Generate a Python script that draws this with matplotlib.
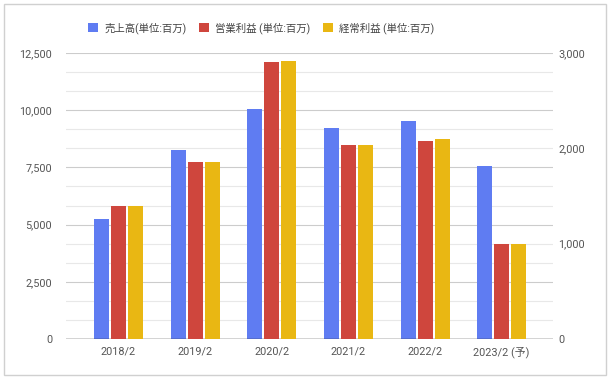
import numpy as np
import matplotlib
matplotlib.use('Agg')
import matplotlib.pyplot as plt
from matplotlib.patches import Rectangle, Patch
from matplotlib.ticker import MultipleLocator, FuncFormatter

plt.rcParams['font.family'] = ['Roboto', 'Noto Sans CJK JP', 'DejaVu Sans']

# データ
years = ['2018/2', '2019/2', '2020/2', '2021/2', '2022/2', '2023/2 (予)']
sales = [5260, 8280, 10060, 9230, 9510, 7570]          # 左軸
op_profit = [1400, 1860, 2910, 2030, 2080, 1000]        # 右軸
ord_profit = [1400, 1860, 2920, 2040, 2100, 1000]       # 右軸
labels = ['売上高(単位:百万)', '営業利益 (単位:百万)', '経常利益 (単位:百万)']
colors = ['#5f7cf2', '#cf463d', '#e9b713']

W, H = 612, 382
fig = plt.figure(figsize=(W / 100, H / 100), dpi=100)
fig.patch.set_facecolor('white')

# 外枠
fig.add_artist(Rectangle((4 / W, 1 - 375 / H), 602 / W, 371 / H,
                         transform=fig.transFigure, fill=False,
                         edgecolor='#d0d0d0', linewidth=1))

ax = fig.add_axes([66 / W, 1 - 339 / H, 487 / W, 286 / H])
ax2 = ax.twinx()

x = np.arange(len(years))
bw = 0.196
step = 0.222
ax.bar(x - step, sales, bw, color=colors[0], zorder=3)
ax2.bar(x, op_profit, bw, color=colors[1], zorder=3)
ax2.bar(x + step, ord_profit, bw, color=colors[2], zorder=3)

ax.set_xlim(-0.685, 5.67)
ax.set_ylim(0, 12500)
ax2.set_ylim(0, 3000)

ax.yaxis.set_major_locator(MultipleLocator(2500))
ax.yaxis.set_minor_locator(MultipleLocator(2500 / 3))
ax2.yaxis.set_major_locator(MultipleLocator(1000))
fmt = FuncFormatter(lambda v, p: f'{int(v):,}')
ax.yaxis.set_major_formatter(fmt)
ax2.yaxis.set_major_formatter(fmt)

ax.grid(which='major', axis='y', color='#cccccc', linewidth=0.8, zorder=0)
ax.grid(which='minor', axis='y', color='#e8e8e8', linewidth=0.8, zorder=0)
ax.set_axisbelow(True)

for a in (ax, ax2):
    for s in a.spines.values():
        s.set_visible(False)
ax.axhline(0, color='#333333', linewidth=1, zorder=4)

ax.set_xticks(x)
ax.set_xticklabels(years)
ax.tick_params(axis='x', length=0, pad=11.5, labelsize=7.8, labelcolor='#555555')
# 予 の字でラベルがずれないようにベースライン揃え
for t in ax.get_xticklabels():
    t.set_verticalalignment('baseline')
ax.tick_params(axis='y', which='both', length=0, pad=10, labelsize=7.8,
               labelcolor='#555555')
ax2.tick_params(axis='y', length=0, pad=4, labelsize=7.8, labelcolor='#555555')

handles = [Patch(facecolor=c, edgecolor='none') for c in colors]
fig.legend(handles, labels, loc='center', bbox_to_anchor=(261 / W, 1 - 28 / H),
           ncol=3, frameon=False, fontsize=7.5, handlelength=0.95,
           handleheight=0.95, handletextpad=0.6, columnspacing=1.2,
           labelcolor='#444444')

fig.savefig('out.png', dpi=100, facecolor='white')
